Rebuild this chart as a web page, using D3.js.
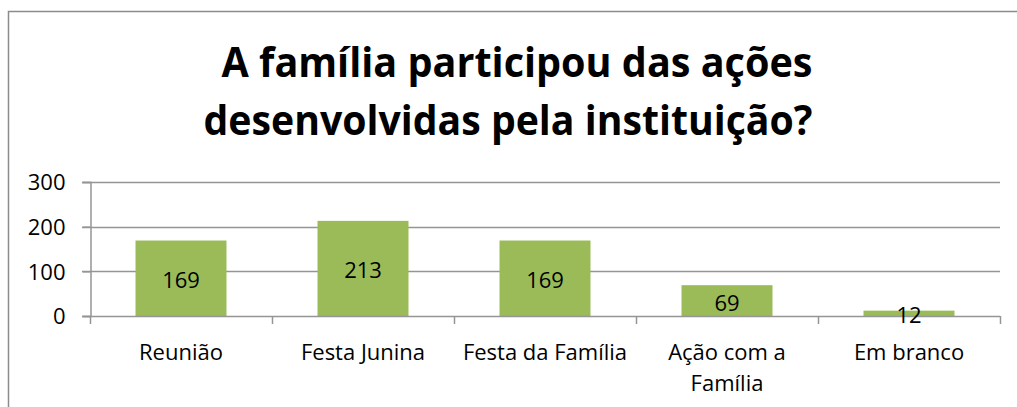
<!DOCTYPE html>
<html>
<head>
<meta charset="utf-8">
<script src="https://cdn.jsdelivr.net/npm/d3@7"></script>
<style>
  html, body { margin: 0; padding: 0; background: #fff; }
  svg { display: block; }
</style>
</head>
<body>
<svg id="chart" width="1017" height="407"></svg>
<script>
const titleLines = ["A família participou das ações", "desenvolvidas pela instituição?"];
const categories = ["Reunião", "Festa Junina", "Festa da Família", "Ação com a\nFamília", "Em branco"];
const values = [169, 213, 169, 69, 12];
const yTicks = [0, 100, 200, 300];

const W = 1017, H = 407;
const svg = d3.select("#chart");
const font = "'Open Sans', sans-serif";

// chart frame
svg.append("rect")
  .attr("x", 8.5).attr("y", 11.5)
  .attr("width", W + 20).attr("height", H + 20)
  .attr("fill", "#fff").attr("stroke", "#8c8c8c").attr("stroke-width", 1.5);

const plot = { left: 90, right: 1000, top: 182, bottom: 316 };

const x = d3.scaleBand()
  .domain(categories)
  .range([plot.left, plot.right])
  .paddingInner(0.5).paddingOuter(0.25);

const y = d3.scaleLinear()
  .domain([0, 300])
  .range([plot.bottom, plot.top]);

// title
const titleTargets = [
  { cx: 517, base: 77, width: 591 },
  { cx: 508, base: 135, width: 609 }
];
titleLines.forEach((t, i) => {
  const el = svg.append("text")
    .attr("x", titleTargets[i].cx).attr("y", titleTargets[i].base)
    .attr("text-anchor", "middle")
    .attr("font-family", font).attr("font-weight", "bold")
    .attr("font-size", 41).attr("fill", "#000")
    .text(t);
  el.attr("textLength", titleTargets[i].width).attr("lengthAdjust", "spacingAndGlyphs");
});

// gridlines
svg.append("g")
  .selectAll("line")
  .data(yTicks.filter(d => d > 0))
  .join("line")
  .attr("x1", plot.left - 8).attr("x2", plot.right)
  .attr("y1", d => Math.round(y(d)) + 0.5).attr("y2", d => Math.round(y(d)) + 0.5)
  .attr("stroke", "#959595").attr("stroke-width", 1.5);

// y axis
const yAxis = svg.append("g")
  .attr("transform", `translate(${plot.left + 0.5},0)`)
  .call(d3.axisLeft(y).tickValues(yTicks).tickSize(8).tickPadding(17));
yAxis.select(".domain").attr("stroke", "#959595").attr("stroke-width", 1.5);
yAxis.selectAll(".tick line").attr("stroke", "#959595").attr("stroke-width", 1.5);
yAxis.selectAll(".tick text")
  .attr("font-family", font).attr("font-size", 22).attr("fill", "#000")
  .attr("dy", "0.36em");

// bars
svg.append("g")
  .selectAll("rect")
  .data(values)
  .join("rect")
  .attr("x", (d, i) => x(categories[i]))
  .attr("width", x.bandwidth())
  .attr("y", d => y(d))
  .attr("height", d => y(0) - y(d))
  .attr("fill", "#9BBB59");

// x axis line and ticks at band boundaries
const boundaries = d3.range(categories.length + 1).map(i => plot.left + i * (plot.right - plot.left) / categories.length);
svg.append("line")
  .attr("x1", plot.left - 8).attr("x2", plot.right)
  .attr("y1", y(0) + 0.5).attr("y2", y(0) + 0.5)
  .attr("stroke", "#959595").attr("stroke-width", 1.5);
svg.append("g").selectAll("line")
  .data(boundaries)
  .join("line")
  .attr("x1", d => d + 0.5).attr("x2", d => d + 0.5)
  .attr("y1", y(0)).attr("y2", y(0) + 8)
  .attr("stroke", "#959595").attr("stroke-width", 1.5);

// category labels
const cat = svg.append("g").selectAll("text")
  .data(categories)
  .join("text")
  .attr("x", d => x(d) + x.bandwidth() / 2)
  .attr("y", 360)
  .attr("text-anchor", "middle")
  .attr("font-family", font).attr("font-size", 22).attr("fill", "#000");
cat.each(function(d) {
  const lines = d.split("\n");
  const t = d3.select(this);
  lines.forEach((l, i) => {
    t.append("tspan")
      .attr("x", x(d) + x.bandwidth() / 2)
      .attr("dy", i === 0 ? 0 : 31)
      .text(l);
  });
});

// value labels
svg.append("g").selectAll("text")
  .data(values)
  .join("text")
  .attr("x", (d, i) => x(categories[i]) + x.bandwidth() / 2)
  .attr("y", d => (y(d) + y(0)) / 2 + 2)
  .attr("dy", "0.36em")
  .attr("text-anchor", "middle")
  .attr("font-family", font).attr("font-size", 22).attr("fill", "#000")
  .text(d => d);
</script>
</body>
</html>
